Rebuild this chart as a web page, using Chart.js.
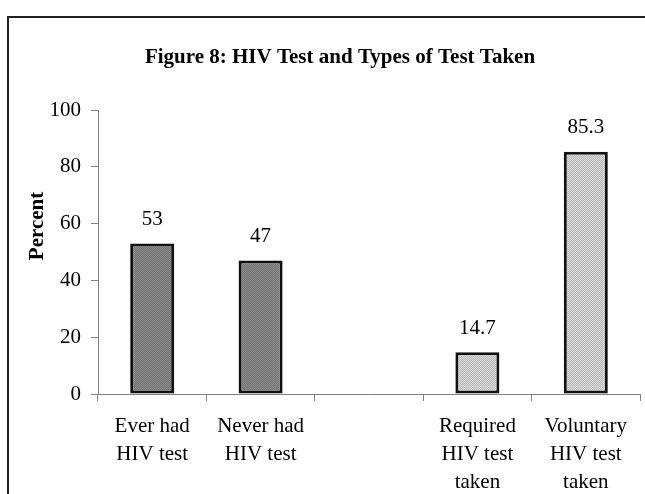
<!DOCTYPE html>
<html>
<head>
<meta charset="utf-8">
<script src="https://cdn.jsdelivr.net/npm/chart.js@4.4.0/dist/chart.umd.min.js"></script>
<style>
  html, body { margin: 0; padding: 0; background: #fff; }
  #wrap { width: 645px; height: 494px; }
</style>
</head>
<body>
<div id="wrap"><canvas id="myChart" width="645" height="494"></canvas></div>
<script>
var categories = [['Ever had', 'HIV test'], ['Never had', 'HIV test'], '', ['Required', 'HIV test', 'taken'], ['Voluntary', 'HIV test', 'taken']]
var percent = [53, 47, null, 14.7, 85.3]
var yTicks = [0, 20, 40, 60, 80, 100]
var titleText = 'Figure 8: HIV Test and Types of Test Taken'
var yTitle = 'Percent'

var serif = "'Liberation Serif', 'Times New Roman', serif"

// little hatch patterns like the original fills
function makePattern(base, dot) {
    var c = document.createElement('canvas')
    c.width = 2
    c.height = 2
    var g = c.getContext('2d')
    g.fillStyle = base
    g.fillRect(0, 0, 2, 2)
    g.fillStyle = dot
    g.fillRect(0, 0, 1, 1)
    g.fillRect(1, 1, 1, 1)
    return document.getElementById('myChart').getContext('2d').createPattern(c, 'repeat')
}
var darkFill = makePattern('#727272', '#8c8c8c')
var lightFill = makePattern('#b6b6b6', '#dadada')
var fills = [darkFill, darkFill, darkFill, lightFill, lightFill]

var decor = {
    id: 'decor',
    beforeDraw: function(chart) {
        var ctx = chart.ctx
        ctx.save()
        ctx.strokeStyle = '#222'
        ctx.lineWidth = 2
        ctx.strokeRect(8, 17, 700, 600)
        ctx.restore()
    },
    afterDatasetsDraw: function(chart) {
        var ctx = chart.ctx
        var area = chart.chartArea
        ctx.save()
        ctx.fillStyle = '#000'
        ctx.textAlign = 'center'
        // value labels
        ctx.font = '21px ' + serif
        ctx.textBaseline = 'middle'
        chart.getDatasetMeta(0).data.forEach(function(bar, i) {
            if (percent[i] == null) return
            ctx.fillText(String(percent[i]), bar.x, bar.y - 24)
        })
        // title
        ctx.font = 'bold 21px ' + serif
        ctx.textBaseline = 'alphabetic'
        ctx.fillText(titleText, 340, 63)
        // y axis title
        ctx.translate(38, 226)
        ctx.rotate(-Math.PI / 2)
        ctx.textBaseline = 'middle'
        ctx.fillText(yTitle, 0, 0)
        ctx.restore()
    }
}

var chart = new Chart(document.getElementById('myChart').getContext('2d'), {
    type: 'bar',
    data: {
        labels: categories,
        datasets: [{
            data: percent,
            backgroundColor: fills,
            borderColor: '#111',
            borderWidth: 3,
            borderSkipped: false,
            categoryPercentage: 1,
            barPercentage: 0.406
        }]
    },
    options: {
        responsive: false,
        animation: false,
        layout: { padding: { top: 110, right: 5, left: 0, bottom: 0 } },
        plugins: {
            legend: { display: false },
            title: { display: false },
            tooltip: { enabled: false }
        },
        scales: {
            x: {
                grid: { display: true, drawOnChartArea: false, color: '#808080', tickLength: 7 },
                border: { color: '#808080', width: 1 },
                ticks: {
                    color: '#000',
                    font: { family: serif, size: 21, lineHeight: 1.32 },
                    padding: 12,
                    maxRotation: 0,
                    autoSkip: false
                },
                afterFit: function(scale) { scale.height = 100 }
            },
            y: {
                min: 0,
                max: 100,
                afterBuildTicks: function(scale) {
                    scale.ticks = yTicks.map(function(v) { return { value: v } })
                },
                grid: { display: true, drawOnChartArea: false, color: '#808080', tickLength: 7 },
                border: { color: '#808080', width: 1 },
                ticks: {
                    color: '#000',
                    font: { family: serif, size: 21 },
                    padding: 10
                },
                afterFit: function(scale) { scale.width = 98 }
            }
        }
    },
    plugins: [decor]
})
</script>
</body>
</html>
